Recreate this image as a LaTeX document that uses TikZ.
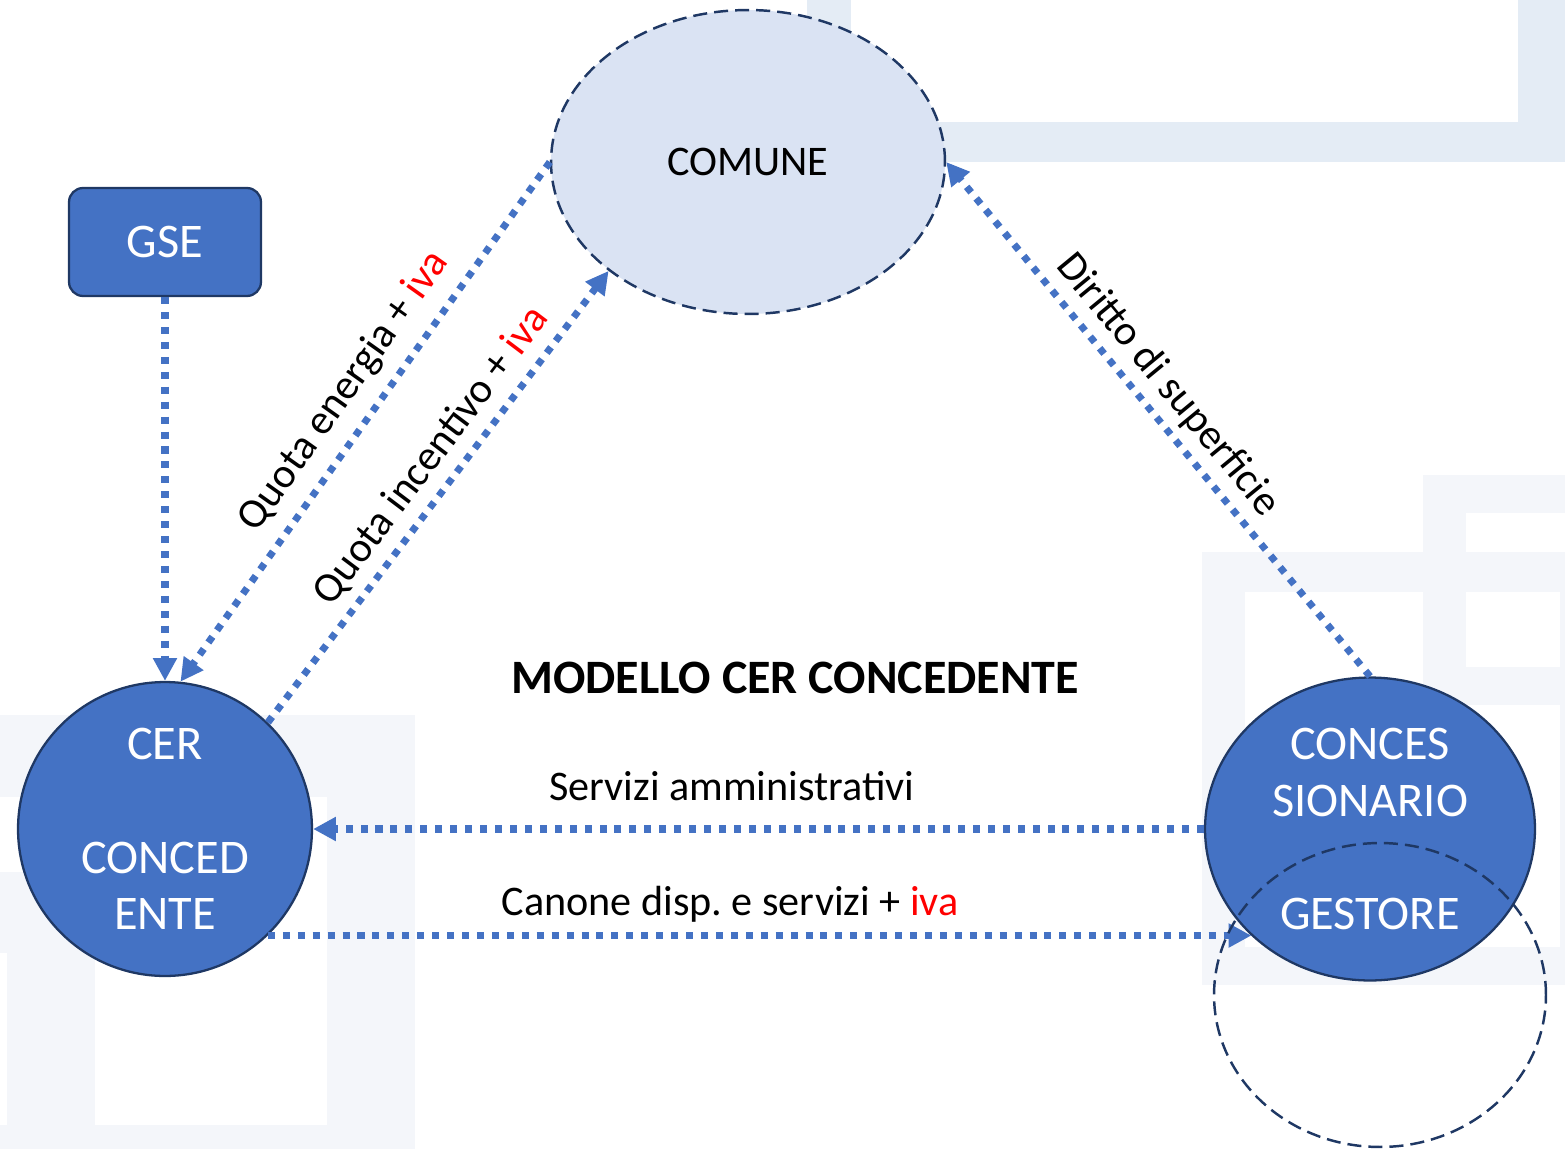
\documentclass[tikz,border=0pt]{standalone}
\usepackage{fontspec}
\setmainfont{Carlito}
\usetikzlibrary{shapes.geometric, arrows.meta, positioning}

\definecolor{cerblue}{HTML}{4472C4}
\definecolor{cernavy}{HTML}{1F3864}
\definecolor{comunefill}{HTML}{DAE3F3}
\definecolor{bgframe}{HTML}{E4ECF5}
\definecolor{bgfaint}{HTML}{F4F6FA}
\definecolor{ivared}{HTML}{FF0000}
\newcommand{\iva}{\textcolor{ivared}{iva}}
\frenchspacing

\begin{document}
\begin{tikzpicture}[
  x=0.02cm, y=-0.02cm,
  every node/.style={font=\fontsize{24}{32.3}\selectfont},
  entity/.style={draw=cernavy, line width=1.3pt, fill=cerblue, text=white, inner sep=0pt, align=center,
    font=\fontsize{27.5}{32.3}\selectfont},
  dashring/.style={ellipse, draw=cernavy, line width=1.4pt, dash pattern=on 8pt off 4pt, inner sep=0pt},
  flow/.style={draw=cerblue, line width=4pt, dash pattern=on 4pt off 4.5pt,
    -{Triangle[length=13pt,width=13pt]}},
  titolo/.style={font=\bfseries\fontsize{27.3}{30}\selectfont}]

  \useasboundingbox (0,0) rectangle (1565,1149);

  % sfondo
  \fill[bgframe] (807,0) rectangle (1565,162);
  \fill[white] (851,0) rectangle (1518,122);
  \fill[bgfaint] (0,715) rectangle (415,1149);
  \fill[white] (0,797) rectangle (327,872);
  \fill[white] (95,797) rectangle (327,1125);
  \fill[white] (0,953) rectangle (7,1125);
  \fill[bgfaint] (1202,552) rectangle (1565,985);
  \fill[white] (1245,592) rectangle (1560,947);
  \fill[bgfaint] (1423,475) rectangle (1466,705);
  \fill[bgfaint] (1423,475) rectangle (1565,513);
  \fill[white] (1466,513) rectangle (1565,552);
  \fill[bgfaint] (1423,667) rectangle (1565,705);

  % nodi
  \node[dashring, fill=comunefill, minimum width=7.88cm, minimum height=6.08cm] (comune) at (748,162) {COMUNE};
  \node[entity, rectangle, rounded corners=8pt, minimum width=3.84cm, minimum height=2.16cm] (gse) at (165,242) {GSE};
  \node[entity, circle, minimum size=5.88cm] (cer) at (165,829) {CER\\\mbox{}\\CONCED\\ENTE};
  \node[entity, ellipse, minimum width=6.6cm, minimum height=6.06cm] (conc) at (1370,829) {CONCES\\SIONARIO\\\mbox{}\\GESTORE};
  \node[titolo] (modello) at (795,678) {MODELLO CER CONCEDENTE};

  % flussi
  \draw[flow] (gse.south) -- (cer.north);
  \draw[flow] (comune.west) -- node[sloped, above=4pt, pos=.48] (energia) {Quota energia + \iva} (cer.84);
  \draw[flow] (cer.46) -- node[sloped, above=2pt, pos=.55] (incentivo) {Quota incentivo + \iva} (comune.218);
  \draw[flow] (conc.north) -- node[sloped, above=1pt, pos=.53] (diritto) {Diritto di superficie} (comune.east);
  \draw[flow] (conc.west) -- node[above=11pt, pos=.53] (servizi) {Servizi amministrativi} (cer.east);
  \draw[flow] (cer.-46) -- node[above=2pt, pos=.47] (canone) {Canone disp. e servizi + \iva} (cer.-46 -| conc.222);

  \node[dashring, minimum width=6.64cm, minimum height=6.08cm] (gestore) at (1380,995) {};
\end{tikzpicture}
\end{document}
